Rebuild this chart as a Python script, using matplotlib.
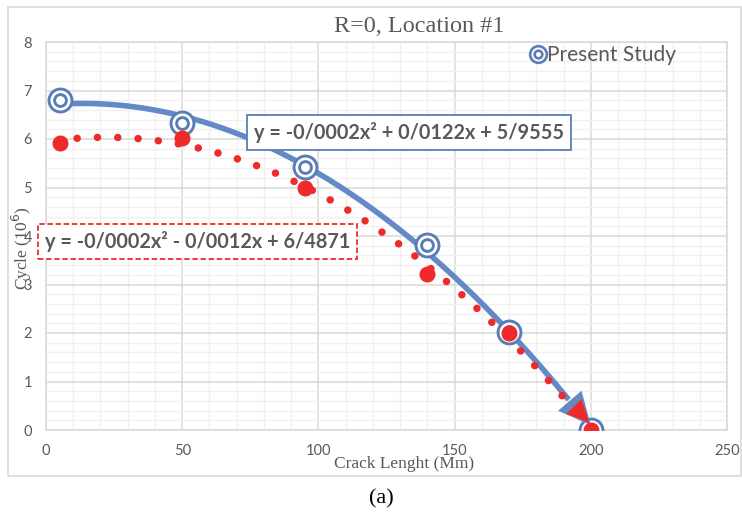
import numpy as np
import matplotlib
matplotlib.use("Agg")
import matplotlib.pyplot as plt
from matplotlib.lines import Line2D
from matplotlib.patches import Rectangle
from matplotlib.ticker import MultipleLocator

# Crack length (mm) and cycles (10^6)
crack_length = [5, 50, 95, 140, 170, 200]
present_study = [6.80, 6.33, 5.42, 3.82, 2.02, 0.0]
reference_data = [5.92, 6.02, 5.00, 3.22, 2.00, 0.0]

eq_present = "y = -0/0002x² + 0/0122x + 5/9555"
eq_reference = "y = -0/0002x² - 0/0012x + 6/4871"

x_ticks = [0, 50, 100, 150, 200, 250]
y_ticks = [0, 1, 2, 3, 4, 5, 6, 7, 8]

BLUE_LINE = "#6389c6"
BLUE_MARK = "#5b7db6"
RED = "#ee2a2a"
GRAY_TXT = "#595959"
SANS = "Lato"
SERIF = "Liberation Serif"

W, H = 742, 514
fig = plt.figure(figsize=(W / 100, H / 100), dpi=100)
ax = fig.add_axes([46 / W, 1 - 430 / H, (727 - 46) / W, (430 - 42) / H])

# Outer chart frame
fig.patches.append(Rectangle((8 / W, 1 - 476 / H), (741 - 8) / W, (476 - 7) / H,
                             transform=fig.transFigure, fill=False,
                             edgecolor="#d9d9d9", lw=1.2, zorder=0))

ax.set_xlim(0, 250)
ax.set_ylim(0, 8)
ax.set_xticks(x_ticks)
ax.set_yticks(y_ticks)
ax.xaxis.set_minor_locator(MultipleLocator(10))
ax.yaxis.set_minor_locator(MultipleLocator(0.2))
ax.grid(which="major", color="#d9d9d9", lw=1.1, zorder=0)
ax.grid(which="minor", color="#f0f0f0", lw=1.0, zorder=0)
ax.set_axisbelow(True)
for s in ax.spines.values():
    s.set_color("#d9d9d9")
    s.set_linewidth(1.1)
ax.tick_params(which="both", length=0)
ax.tick_params(axis="x", pad=10, labelsize=10.5, labelcolor=GRAY_TXT)
ax.tick_params(axis="y", pad=10, labelsize=10.5, labelcolor=GRAY_TXT)
for lab in ax.get_xticklabels() + ax.get_yticklabels():
    lab.set_fontfamily(SANS)

# Second-order polynomial trend lines
xs = np.linspace(crack_length[0], 197, 300)
p_blue = np.polyfit(crack_length, present_study, 2)
p_red = np.polyfit(crack_length, reference_data, 2)
yb = np.polyval(p_blue, xs)
yr = np.polyval(p_red, xs)

ax.plot(xs[:-8], yb[:-8], color=BLUE_LINE, lw=4.0, solid_capstyle="butt", zorder=3)
ax.annotate("", xy=(200.0, 0.1), xytext=(xs[-30], yb[-30]),
            arrowprops=dict(arrowstyle="-|>,head_length=2.3,head_width=1.1",
                            color=BLUE_LINE, lw=0.1, shrinkA=0, shrinkB=0),
            zorder=4.5)

# Present study markers (double circle)
ax.plot(crack_length, present_study, ls="none", marker="o", ms=16.5,
        mfc="white", mec=BLUE_MARK, mew=2.1, zorder=4)
ax.plot(crack_length, present_study, ls="none", marker="o", ms=8.5,
        mfc="white", mec=BLUE_MARK, mew=2.1, zorder=4)

ax.plot(xs[10:-10], yr[10:-10], color=RED, lw=5.4, ls=(0, (0.01, 2.7)),
        dash_capstyle="round", zorder=5)
ax.annotate("", xy=(199.5, 0.15), xytext=(xs[-24], yr[-24]),
            arrowprops=dict(arrowstyle="-|>,head_length=1.6,head_width=0.75",
                            color=RED, lw=0.1, shrinkA=0, shrinkB=0),
            zorder=5)
ax.plot(crack_length, reference_data, ls="none", marker="o", ms=10.5,
        color=RED, zorder=6)

# Trend line equations
ax.text(133.4, 6.13, eq_present, ha="center", va="center", fontsize=14.3,
        fontweight="bold", family=SANS, color=GRAY_TXT, zorder=7,
        bbox=dict(boxstyle="square,pad=0.35", fc="white", ec=BLUE_MARK, lw=1.3))
ax.text(55.6, 3.88, eq_reference, ha="center", va="center", fontsize=14.3,
        fontweight="bold", family=SANS, color=GRAY_TXT, zorder=7, clip_on=False,
        bbox=dict(boxstyle="square,pad=0.35", fc="white", ec=RED, lw=1.3,
                  ls=(0, (3, 1.5))))

# Legend
h_outer = Line2D([], [], ls="none", marker="o", ms=12, mfc="white",
                 mec=BLUE_MARK, mew=1.9)
h_inner = Line2D([], [], ls="none", marker="o", ms=5.5, mfc="white",
                 mec=BLUE_MARK, mew=1.9)
leg = ax.legend([(h_outer, h_inner)], ["Present Study"], loc="center left",
                bbox_to_anchor=((519 - 46) / (727 - 46), (430 - 55) / (430 - 42)),
                frameon=False, handlelength=0.8, handletextpad=0.05,
                borderpad=0, prop=dict(family=SANS, size=15))
for t in leg.get_texts():
    t.set_color(GRAY_TXT)

# Titles and axis labels
fig.text(419 / W, 1 - 26 / H, "R=0, Location #1", ha="center", va="center",
         family=SERIF, fontsize=17.5, color=GRAY_TXT)
fig.text(404 / W, 1 - 464 / H, "Crack Lenght (Mm)", ha="center", va="center",
         family=SERIF, fontsize=12.5, color=GRAY_TXT)
fig.text(22 / W, 1 - 248 / H, "Cycle (10$^{6}$)", ha="center", va="center",
         rotation=90, family=SERIF, fontsize=12.5, color=GRAY_TXT)
fig.text(381 / W, 1 - 499 / H, "(a)", ha="center", va="center",
         family=SERIF, fontsize=16, color="black")

fig.savefig("out.png", dpi=100)
